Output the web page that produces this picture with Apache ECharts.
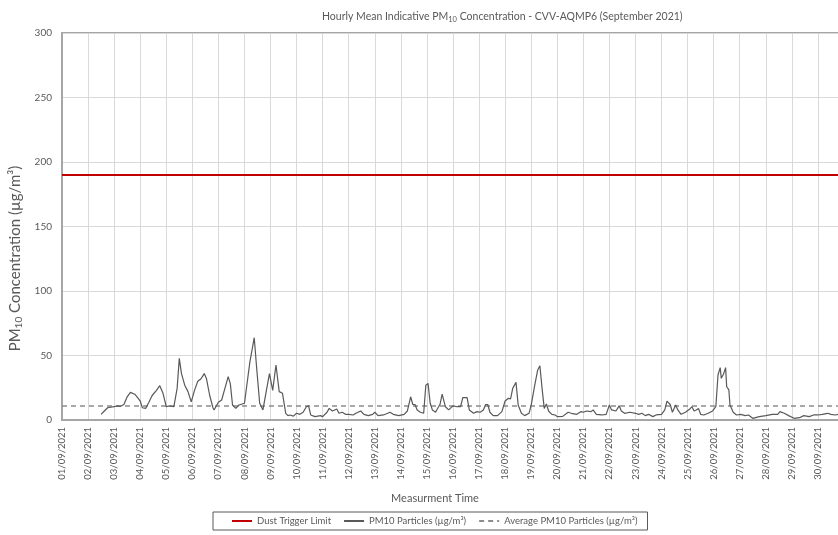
<!DOCTYPE html>
<html>
<head>
<meta charset="utf-8">
<script src="https://cdn.jsdelivr.net/npm/echarts@6/dist/echarts.min.js"></script>
<style>
html,body{margin:0;padding:0;background:#fff;}
#c{width:838px;height:535px;}
</style>
</head>
<body>
<div id="c"></div>
<script>
// Hours since 01/09/2021 00:00
var hours = [36,39,42,48,51,54,57,60,63,67,70,72,74,77,80,83,87,90,93,96,99,103,106,108,110,113,116,119,120,122,125,128,131,133,136,139,140,144,147,150,153,155,157,160,163,168,170,173,177,179,182,185,188,191,194,197,200,203,206,208,
210,213,216,219,222,225,227,229,233,238,240,244,246,249,253,255,258,261,264,268,271,275,278,282,286,288,289,291,296,302,305,310,315,318,320,321,323,325,327,330,333,335,337,339,341,344,345,348,350,353,356,360,364,367,369,373,375,379,382,385,388,390,392,394,397,
401,405,408,411,413,415,418,420,423,426,430,432,435,438,440,442,444,446,448,451,454,456,461,466,469,474,478,480,483,487,489,492,497,501,504,506,510,513,515,518,523,528,531,534,537,540,544,547,552,555,557,560,562,565,567,570,574,578,580,582,584,586,588,591,595,599,602,604,606,607,609,611,612,614,615,618,621,625,629,632,636,642,648,654,659,661,665,669,674,679,683,688,692,696,700,705,708,712,715];
var pm10 = [4.4,7,9.5,10.3,11,10.6,12,18,21.4,20,17,14.7,9.5,9,13.7,19,23,26.6,20.7,10.3,11,10.3,24.5,47.8,36,27,22,14,13.7,23,30,32,36,32,19,9.5,7.8,13.7,15.5,24.5,33.6,28,11.6,9,11.6,13,25.8,45,63.8,42.6,13,7.8,22,36,23,42.6,22,20.7,5.2,3.4,
3.9,3.0,5.2,4.4,6,10.3,10.9,3.9,2.6,3.4,2.6,6,9,7,8.5,5.2,6,4.4,4.4,3.9,5.4,7,4.4,3.4,4.4,6,7,3.4,3.9,6,4.4,3.4,4.4,7,14.2,18,12,12,7.8,6,5.2,27,28.4,13,7.8,6,7.8,12,20,10.3,7.8,11,10.3,10.3,17.3,17.3,7.8,5.2,6.5,6,7.8,12,12,6,3.4,
3.4,6.5,14.7,16.8,16.3,24.5,29.2,11.6,5.2,3.4,5.2,11.6,25.8,38.8,42.1,24.5,9,12.4,7,4.4,3.9,2.6,2.8,6,5.2,4.4,6.5,6,7,6.5,7.8,4.4,3.9,4.4,11.6,7.8,7,11,7,5.2,6,5.2,4.4,5.2,3.4,4.4,2.6,3.9,4.4,7.8,14.7,12,6,11.6,7.8,4.4,6,8.5,10.3,7,7.8,9,4.4,3.9,5.2,7,10.3,34.9,40.6,32.3,35.4,40.6,25.8,23.3,11.6,6,3.9,4.4,3.4,3.9,1.3,2.6,3.4,4.4,4.4,6.5,5.2,3.4,1.3,1.8,3.4,2.6,3.9,3.9,4.4,5.2,4.4,3.9,4.4];
var dustLimit = 190;
var avgPM10 = 10.8;
var yTicks = [0,50,100,150,200,250,300];
var seriesNames = ['Dust Trigger Limit','PM10 Particles (µg/m³)','Average PM10 Particles (µg/m³)'];

var pmData = hours.map(function(h,i){return [h, pm10[i]];});
var font = 'Lato, "Open Sans", sans-serif';
var grey = '#595959';

var chart = echarts.init(document.getElementById('c'), null, {renderer:'canvas'});
chart.setOption({
  animation:false,
  backgroundColor:'#fff',
  title:{
    text:'{a|Hourly Mean Indicative PM}{s|10}{a| Concentration - CVV-AQMP6 (September 2021)}',
    left:317, top:4,
    textStyle:{fontWeight:'normal',rich:{
      a:{fontFamily:font,fontSize:10.5,fontWeight:'normal',color:grey,lineHeight:15},
      s:{fontFamily:font,fontSize:7.5,fontWeight:'normal',color:grey,lineHeight:7,verticalAlign:'bottom'}
    }}
  },
  grid:{left:62,right:-6,top:33,bottom:115,outerBoundsMode:'none',containLabel:false,show:true,borderColor:'#a6a6a6',borderWidth:2,backgroundColor:'transparent'},
  legend:{
    left:213, top:512,
    data:seriesNames,
    itemWidth:20, itemHeight:10, itemGap:12,
    padding:[4,10,4,18],
    itemStyle:{opacity:0},
    borderColor:grey, borderWidth:1,
    textStyle:{fontFamily:font,fontSize:9.5,color:grey}
  },
  xAxis:{
    type:'value', min:0, max:720, interval:24,
    name:'Measurment Time', nameLocation:'middle', nameGap:73,
    nameTextStyle:{fontFamily:font,fontSize:11,color:grey,padding:[0,36,0,0]},
    axisLine:{show:true,lineStyle:{color:'#a6a6a6',width:2}},
    axisTick:{show:false},
    splitLine:{show:true,lineStyle:{color:'#d9d9d9',width:1}},
    axisLabel:{rotate:90,margin:7,fontFamily:font,fontSize:9.5,color:grey,
      formatter:function(v){
        if(v>=720) return '';
        var d = Math.floor(v/24)+1;
        return (d<10?'0':'')+d+'/09/2021';
      }}
  },
  yAxis:{
    type:'value', min:yTicks[0], max:yTicks[yTicks.length-1], interval:50,
    name:'{a|PM}{s|10}{a| Concentration (µg/m³)}', nameLocation:'middle', nameGap:37,
    nameTextStyle:{padding:[0,64,0,0],rich:{
      a:{fontFamily:font,fontSize:15,color:grey,lineHeight:18},
      s:{fontFamily:font,fontSize:10,color:grey,lineHeight:10,verticalAlign:'bottom'}
    }},
    axisLine:{show:true,lineStyle:{color:'#a6a6a6',width:2}},
    axisTick:{show:false},
    splitLine:{show:true,lineStyle:{color:'#d9d9d9',width:1}},
    axisLabel:{margin:10,fontFamily:font,fontSize:10,color:grey}
  },
  series:[
    {name:seriesNames[0],type:'line',symbol:'none',data:[[0,dustLimit],[720,dustLimit]],
     lineStyle:{color:'#c00000',width:2},itemStyle:{color:'#c00000'},z:3},
    {name:seriesNames[1],type:'line',symbol:'none',data:pmData,
     lineStyle:{color:'#595959',width:1.2},itemStyle:{color:'#595959'},z:2},
    {name:seriesNames[2],type:'line',symbol:'none',data:[[0,avgPM10],[720,avgPM10]],
     lineStyle:{color:'#8c8c8c',width:1.5,type:[5,4]},itemStyle:{color:'#8c8c8c'},z:1}
  ]
});
</script>
</body>
</html>
